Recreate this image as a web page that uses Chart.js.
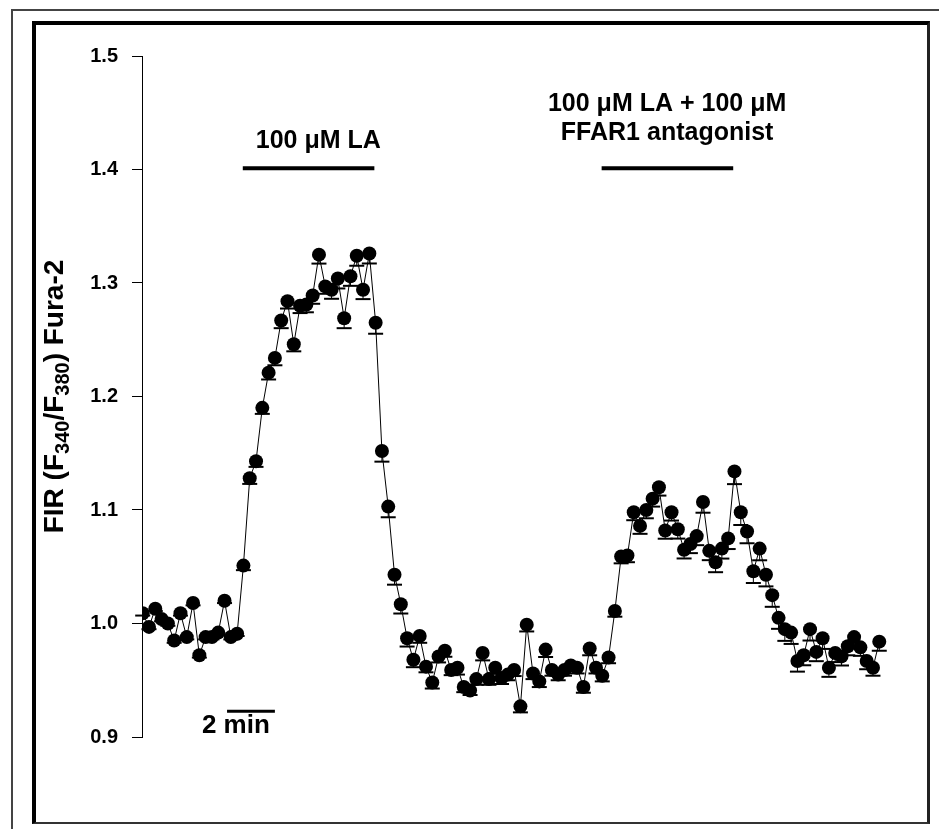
<!DOCTYPE html>
<html>
<head>
<meta charset="utf-8">
<title>FIR Fura-2 - LA / FFAR1</title>
<script src="https://cdn.jsdelivr.net/npm/chart.js@4.4.1/dist/chart.umd.min.js"></script>
<style>
    html, body { margin: 0; padding: 0; background: #fff; }
    #wrap { position: relative; width: 939px; height: 829px; overflow: hidden; }
    .outer { position: absolute; left: 11px; top: 9px; width: 1000px; height: 900px; border-top: 2px solid #444; border-left: 2px solid #444; }
    .frame { position: absolute; left: 32px; top: 21px; width: 898px; height: 803px; box-sizing: border-box;
             border-top: 4px solid #000; border-left: 4px solid #000; border-right: 3px solid #222; border-bottom: 2px solid #333; }
    #chartFura { position: absolute; left: 0; top: 0; }
</style>
</head>
<body>
<div id="wrap">
    <div class="outer"></div>
    <div class="frame"></div>
    <canvas id="chartFura" width="939" height="829"></canvas>
</div>
<script>
// ========================================
// FIR (F340/F380) Fura-2 trace
// 100 uM LA, then 100 uM LA + FFAR1 antagonist
// ========================================

// Ratio values, one per sample (every ~15 s)
const firValues = [
    1.009, 0.997, 1.013, 1.004, 1.000, 0.985, 1.009, 0.988, 1.018, 0.972,
    0.988, 0.988, 0.992, 1.020, 0.988, 0.991, 1.051, 1.128, 1.143, 1.190,
    1.221, 1.234, 1.267, 1.284, 1.246, 1.280, 1.281, 1.289, 1.325, 1.297,
    1.294, 1.304, 1.269, 1.306, 1.324, 1.294, 1.326, 1.265, 1.152, 1.103,
    1.043, 1.017, 0.987, 0.968, 0.989, 0.962, 0.948, 0.971, 0.976, 0.959,
    0.961, 0.944, 0.941, 0.951, 0.974, 0.951, 0.961, 0.952, 0.955, 0.959,
    0.927, 0.999, 0.956, 0.949, 0.977, 0.959, 0.955, 0.959, 0.963, 0.961,
    0.944, 0.978, 0.961, 0.954, 0.970, 1.011, 1.059, 1.060, 1.098, 1.086,
    1.100, 1.110, 1.120, 1.082, 1.098, 1.083, 1.065, 1.070, 1.077, 1.107,
    1.064, 1.054, 1.066, 1.075, 1.134, 1.098, 1.081, 1.046, 1.066, 1.043,
    1.025, 1.005, 0.995, 0.992, 0.967, 0.972, 0.995, 0.975, 0.987, 0.961,
    0.974, 0.971, 0.980, 0.988, 0.979, 0.967, 0.961, 0.984
];

// SEM (drawn downward only, like the original)
const firErrors = [
    0.002, 0.002, 0.002, 0.002, 0.002, 0.002, 0.002, 0.002, 0.002, 0.002,
    0.002, 0.002, 0.002, 0.002, 0.002, 0.002, 0.004, 0.005, 0.005, 0.0053,
    0.006, 0.0065, 0.0068, 0.0065, 0.0062, 0.0065, 0.0068, 0.0073, 0.0079, 0.0065,
    0.0079, 0.0088, 0.0088, 0.0085, 0.0088, 0.0082, 0.0088, 0.0097, 0.0094, 0.0094,
    0.0088, 0.0082, 0.0073, 0.0065, 0.006, 0.005, 0.0053, 0.0053, 0.0053, 0.0045,
    0.006, 0.0045, 0.004, 0.005, 0.0065, 0.005, 0.005, 0.0053, 0.005, 0.0053,
    0.0053, 0.006, 0.005, 0.005, 0.0065, 0.005, 0.005, 0.005, 0.005, 0.005,
    0.005, 0.006, 0.005, 0.005, 0.005, 0.005, 0.006, 0.006, 0.007, 0.007,
    0.0073, 0.007, 0.0073, 0.0073, 0.0073, 0.0082, 0.0077, 0.008, 0.008, 0.0094,
    0.0082, 0.0088, 0.0088, 0.0094, 0.0112, 0.0112, 0.0103, 0.0103, 0.0103, 0.0103,
    0.0103, 0.0097, 0.0103, 0.010, 0.0094, 0.0088, 0.010, 0.0082, 0.0094, 0.008,
    0.008, 0.008, 0.008, 0.008, 0.0075, 0.0073, 0.007, 0.008
];

// Y axis ticks
const yTicks = [0.9, 1.0, 1.1, 1.2, 1.3, 1.4, 1.5];

// Treatment bars [start sample, end sample, level]
const laBar = [15.9, 36.8, 1.401];
const antagonistBar = [72.9, 93.8, 1.401];
const scaleBar = [13.4, 21.0, 0.9227];   // 2 min

// Labels [text, x sample, y value, font size]
const treatmentLabels = [
    ['100 \u03BCM LA', 27.9, 1.425, 25],
    ['100 \u03BCM LA + 100 \u03BCM', 83.3, 1.458, 25],
    ['FFAR1 antagonist', 83.3, 1.432, 25],
    ['2 min', 14.8, 0.9096, 26]
];

const FONT = '"Liberation Sans", Arial, sans-serif';

let chartFuraInstance = null;

/**
 * Error bars below each point (stem + cap)
 */
const errorBarPlugin = {
    id: 'errorBars',
    beforeDatasetsDraw(chart) {
        const ctx = chart.ctx;
        const xs = chart.scales.x, ys = chart.scales.y;
        ctx.save();
        ctx.strokeStyle = '#000';
        firValues.forEach((v, i) => {
            const px = xs.getPixelForValue(i);
            const top = ys.getPixelForValue(v);
            const bot = ys.getPixelForValue(v - firErrors[i]);
            ctx.lineWidth = 1;
            ctx.beginPath();
            ctx.moveTo(px, top);
            ctx.lineTo(px, bot);
            ctx.stroke();
            ctx.lineWidth = 2;
            ctx.beginPath();
            ctx.moveTo(px - 7.5, bot);
            ctx.lineTo(px + 7.5, bot);
            ctx.stroke();
        });
        ctx.restore();
    }
};

/**
 * Texts placed in data coordinates + y axis title with subscripts
 */
const labelPlugin = {
    id: 'labels',
    afterDraw(chart) {
        const ctx = chart.ctx;
        const xs = chart.scales.x, ys = chart.scales.y;
        ctx.save();
        ctx.fillStyle = '#000';
        ctx.textAlign = 'center';
        ctx.textBaseline = 'middle';
        treatmentLabels.forEach(([txt, x, y, size]) => {
            ctx.font = 'bold ' + size + 'px ' + FONT;
            ctx.fillText(txt, xs.getPixelForValue(x), ys.getPixelForValue(y));
        });

        // y title: FIR (F340/F380) Fura-2
        const parts = [
            ['FIR (F', false], ['340', true], ['/F', false], ['380', true], [') Fura-2', false]
        ];
        const big = 'bold 28px ' + FONT, small = 'bold 20px ' + FONT;
        let total = 0;
        parts.forEach(([t, sub]) => { ctx.font = sub ? small : big; total += ctx.measureText(t).width; });
        const cy = (ys.top + ys.bottom) / 2;
        ctx.translate(54, cy);
        ctx.rotate(-Math.PI / 2);
        ctx.textAlign = 'left';
        ctx.textBaseline = 'alphabetic';
        let cx = -total / 2;
        parts.forEach(([t, sub]) => {
            ctx.font = sub ? small : big;
            ctx.fillText(t, cx, sub ? 15 : 9);
            cx += ctx.measureText(t).width;
        });
        ctx.restore();
    }
};

function initChartFura() {
    const ctx = document.getElementById('chartFura');
    if (!ctx) return;

    if (chartFuraInstance) {
        chartFuraInstance.destroy();
        chartFuraInstance = null;
    }

    const barDataset = (b) => ({
        data: [{ x: b[0], y: b[2] }, { x: b[1], y: b[2] }],
        borderColor: '#000',
        borderWidth: 4,
        pointRadius: 0,
        borderCapStyle: 'butt'
    });

    chartFuraInstance = new Chart(ctx, {
        type: 'line',
        data: {
            datasets: [
                {
                    label: 'FIR',
                    data: firValues.map((v, i) => ({ x: i, y: v })),
                    borderColor: '#000',
                    borderWidth: 1,
                    pointRadius: 7,
                    pointBackgroundColor: '#000',
                    pointBorderWidth: 0,
                    tension: 0
                },
                barDataset(laBar),
                barDataset(antagonistBar),
                Object.assign(barDataset(scaleBar), { borderWidth: 3 })
            ]
        },
        plugins: [errorBarPlugin, labelPlugin],
        options: {
            responsive: false,
            animation: false,
            devicePixelRatio: 1,
            layout: { padding: { left: 0, top: 56, right: 19, bottom: 92 } },
            plugins: {
                legend: { display: false },
                tooltip: { enabled: false }
            },
            scales: {
                x: {
                    type: 'linear',
                    display: false,
                    min: -0.11,
                    max: 123.47
                },
                y: {
                    min: yTicks[0],
                    max: yTicks[yTicks.length - 1],
                    afterFit: (s) => { s.width = 142; },
                    afterBuildTicks: (s) => { s.ticks = yTicks.map(v => ({ value: v })); },
                    border: { display: true, color: '#000', width: 1 },
                    grid: { drawOnChartArea: false, drawTicks: true, tickLength: 10, color: '#000', lineWidth: 1 },
                    ticks: {
                        padding: 14,
                        color: '#000',
                        font: { family: FONT, size: 20, weight: 'bold' },
                        callback: (v) => Number(v).toFixed(1)
                    }
                }
            }
        }
    });
}

document.addEventListener('DOMContentLoaded', function () {
    try {
        initChartFura();
    } catch (error) {
        console.error('Error initializing chart:', error);
    }
});
</script>
</body>
</html>
